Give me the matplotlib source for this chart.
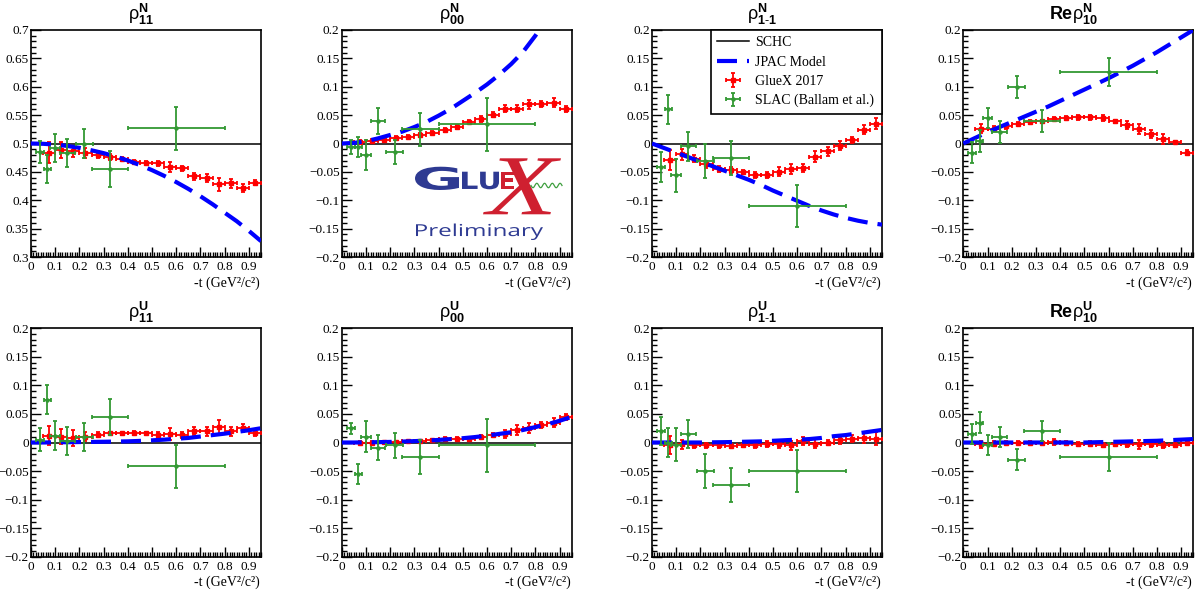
import numpy as np
import matplotlib
matplotlib.use("Agg")
import matplotlib.pyplot as plt
from matplotlib.lines import Line2D
from matplotlib.ticker import MultipleLocator, FuncFormatter
from matplotlib.textpath import TextPath
from matplotlib.patches import PathPatch
from matplotlib.font_manager import FontProperties
from matplotlib.transforms import Affine2D, IdentityTransform

# ------------------------------------------------------------------ data
GLUEX_T = [0.075, 0.125, 0.175, 0.225, 0.275, 0.325, 0.375, 0.425, 0.475,
           0.525, 0.575, 0.625, 0.675, 0.725, 0.775, 0.825, 0.875, 0.925]
GLUEX_T_HALFBIN = 0.025

SLAC_T = [0.037, 0.068, 0.10, 0.15, 0.22, 0.325, 0.60]
SLAC_T_ERR = [0.017, 0.014, 0.02, 0.03, 0.035, 0.075, 0.20]

JPAC_T = [0.00, 0.05, 0.10, 0.15, 0.20, 0.25, 0.30, 0.35, 0.40, 0.45,
          0.50, 0.55, 0.60, 0.65, 0.70, 0.75, 0.80, 0.85, 0.90, 0.95]

# --- rho^N_11
GLUEX_RHO11_N = [0.484, 0.489, 0.486, 0.483, 0.480, 0.476, 0.473, 0.468, 0.466,
                 0.465, 0.458, 0.456, 0.442, 0.440, 0.428, 0.430, 0.421, 0.431]
GLUEX_RHO11_N_ERR = [0.018, 0.014, 0.010, 0.009, 0.006, 0.005, 0.004, 0.003, 0.003,
                     0.004, 0.009, 0.004, 0.006, 0.007, 0.011, 0.008, 0.007, 0.004]
SLAC_RHO11_N = [0.485, 0.455, 0.492, 0.483, 0.500, 0.455, 0.527]
SLAC_RHO11_N_ERR = [0.020, 0.025, 0.025, 0.025, 0.025, 0.031, 0.038]
JPAC_RHO11_N = [0.500, 0.4995, 0.498, 0.4957, 0.4924, 0.488, 0.483, 0.477, 0.470, 0.462,
                0.453, 0.443, 0.432, 0.420, 0.407, 0.393, 0.378, 0.363, 0.346, 0.328]

# --- rho^N_00
GLUEX_RHO00_N = [0.003, 0.005, 0.007, 0.010, 0.012, 0.015, 0.019, 0.024, 0.029,
                 0.038, 0.043, 0.051, 0.061, 0.061, 0.069, 0.070, 0.072, 0.061]
GLUEX_RHO00_N_ERR = [0.003, 0.003, 0.003, 0.003, 0.003, 0.003, 0.003, 0.004, 0.004,
                     0.003, 0.005, 0.004, 0.006, 0.006, 0.008, 0.005, 0.008, 0.005]
SLAC_RHO00_N = [-0.006, -0.006, -0.020, 0.039, -0.015, 0.025, 0.034]
SLAC_RHO00_N_ERR = [0.012, 0.018, 0.027, 0.023, 0.022, 0.029, 0.047]
JPAC_RHO00_N = [0.000, 0.001, 0.004, 0.009, 0.015, 0.021, 0.029, 0.038, 0.049, 0.061,
                0.075, 0.089, 0.104, 0.121, 0.140, 0.162, 0.190, 0.222, 0.258, 0.298]

# --- rho^N_1-1
GLUEX_RHO1M1_N = [-0.029, -0.019, -0.027, -0.037, -0.045, -0.047, -0.050, -0.056, -0.056,
                  -0.050, -0.045, -0.044, -0.023, -0.014, -0.004, 0.006, 0.024, 0.035]
GLUEX_RHO1M1_N_ERR = [0.018, 0.010, 0.006, 0.006, 0.005, 0.005, 0.004, 0.005, 0.005,
                      0.008, 0.009, 0.007, 0.010, 0.008, 0.008, 0.005, 0.008, 0.010]
SLAC_RHO1M1_N = [-0.041, 0.060, -0.056, -0.005, -0.031, -0.025, -0.110]
SLAC_RHO1M1_N_ERR = [0.026, 0.026, 0.029, 0.026, 0.030, 0.030, 0.037]
JPAC_RHO1M1_N = [0.000, -0.008, -0.016, -0.024, -0.032, -0.040, -0.048, -0.056, -0.064, -0.073,
                 -0.083, -0.092, -0.101, -0.110, -0.118, -0.125, -0.131, -0.136, -0.140, -0.143]

# --- Re rho^N_10
GLUEX_RERHO10_N = [0.026, 0.026, 0.030, 0.035, 0.038, 0.039, 0.043, 0.045, 0.046,
                   0.046, 0.045, 0.039, 0.032, 0.025, 0.017, 0.008, 0.002, -0.016]
GLUEX_RERHO10_N_ERR = [0.008, 0.004, 0.004, 0.003, 0.003, 0.003, 0.004, 0.004, 0.005,
                       0.005, 0.005, 0.003, 0.007, 0.009, 0.007, 0.008, 0.003, 0.004]
SLAC_RERHO10_N = [-0.016, 0.004, 0.045, 0.020, 0.100, 0.040, 0.126]
SLAC_RERHO10_N_ERR = [0.019, 0.019, 0.018, 0.019, 0.019, 0.019, 0.025]
JPAC_RERHO10_N = [0.000, 0.010, 0.020, 0.029, 0.038, 0.047, 0.056, 0.065, 0.075, 0.085,
                  0.095, 0.105, 0.115, 0.126, 0.137, 0.149, 0.161, 0.174, 0.187, 0.200]

# --- rho^U_11
GLUEX_RHO11_U = [0.012, 0.010, 0.008, 0.010, 0.014, 0.016, 0.016, 0.017, 0.016,
                 0.014, 0.015, 0.013, 0.020, 0.020, 0.027, 0.020, 0.026, 0.017]
GLUEX_RHO11_U_ERR = [0.017, 0.013, 0.014, 0.008, 0.005, 0.003, 0.003, 0.003, 0.003,
                     0.004, 0.010, 0.005, 0.007, 0.008, 0.012, 0.008, 0.007, 0.005]
SLAC_RHO11_U = [0.005, 0.075, 0.012, 0.003, 0.010, 0.045, -0.042]
SLAC_RHO11_U_ERR = [0.020, 0.025, 0.025, 0.025, 0.025, 0.031, 0.037]
JPAC_RHO11_U = [0.000, 0.000, 0.0003, 0.0005, 0.0008, 0.001, 0.0013, 0.0017, 0.002, 0.0028,
                0.0038, 0.005, 0.0065, 0.008, 0.0105, 0.013, 0.0155, 0.0185, 0.0215, 0.025]

# --- rho^U_00
GLUEX_RHO00_U = [0.000, 0.000, 0.001, 0.001, 0.002, 0.003, 0.004, 0.006, 0.007,
                 0.006, 0.010, 0.013, 0.015, 0.022, 0.025, 0.031, 0.035, 0.045]
GLUEX_RHO00_U_ERR = [0.002, 0.002, 0.002, 0.002, 0.002, 0.002, 0.003, 0.004, 0.003,
                     0.003, 0.004, 0.004, 0.007, 0.008, 0.009, 0.005, 0.008, 0.005]
SLAC_RHO00_U = [0.025, -0.055, 0.010, -0.009, -0.005, -0.025, -0.005]
SLAC_RHO00_U_ERR = [0.010, 0.018, 0.027, 0.022, 0.022, 0.030, 0.047]
JPAC_RHO00_U = [0.000, 0.000, 0.0003, 0.0006, 0.001, 0.0016, 0.0024, 0.0033, 0.0045, 0.006,
                0.0075, 0.0095, 0.012, 0.015, 0.018, 0.022, 0.027, 0.032, 0.038, 0.045]

# --- rho^U_1-1
GLUEX_RHO1M1_U = [-0.005, -0.003, -0.005, -0.005, -0.005, -0.006, -0.005, -0.005, -0.003,
                  -0.003, -0.005, 0.003, -0.002, 0.000, 0.004, 0.007, 0.008, 0.007]
GLUEX_RHO1M1_U_ERR = [0.016, 0.008, 0.005, 0.005, 0.004, 0.003, 0.003, 0.004, 0.005,
                      0.006, 0.008, 0.007, 0.008, 0.005, 0.006, 0.006, 0.008, 0.011]
SLAC_RHO1M1_U = [0.020, 0.000, -0.004, 0.015, -0.050, -0.075, -0.050]
SLAC_RHO1M1_U_ERR = [0.025, 0.025, 0.029, 0.025, 0.030, 0.030, 0.036]
JPAC_RHO1M1_U = [0.000, 0.000, 0.000, 0.000, 0.000, 0.0003, 0.0006, 0.001, 0.0015, 0.002,
                 0.003, 0.004, 0.005, 0.006, 0.008, 0.011, 0.013, 0.016, 0.019, 0.022]

# --- Re rho^U_10
GLUEX_RERHO10_U = [-0.003, -0.002, 0.000, 0.000, 0.000, 0.000, 0.001, -0.001, -0.003,
                   -0.002, -0.004, -0.003, -0.003, -0.003, -0.003, -0.004, -0.004, -0.001]
GLUEX_RERHO10_U_ERR = [0.006, 0.004, 0.003, 0.002, 0.002, 0.002, 0.005, 0.003, 0.004,
                       0.004, 0.004, 0.003, 0.005, 0.008, 0.005, 0.005, 0.003, 0.004]
SLAC_RERHO10_U = [0.015, 0.035, -0.004, 0.010, -0.030, 0.020, -0.025]
SLAC_RERHO10_U_ERR = [0.018, 0.018, 0.018, 0.018, 0.018, 0.018, 0.025]
JPAC_RERHO10_U = [0.000, 0.000, 0.000, 0.000, 0.000, 0.000, 0.000, 0.000, 0.000, 0.000,
                  0.000, 0.0005, 0.001, 0.0015, 0.002, 0.0025, 0.003, 0.004, 0.005, 0.006]

TITLES = [r'$\rho^{\mathbf{N}}_{\mathbf{11}}$', r'$\rho^{\mathbf{N}}_{\mathbf{00}}$',
          r'$\rho^{\mathbf{N}}_{\mathbf{1\text{-}1}}$', r'$\mathbf{Re}\rho^{\mathbf{N}}_{\mathbf{10}}$',
          r'$\rho^{\mathbf{U}}_{\mathbf{11}}$', r'$\rho^{\mathbf{U}}_{\mathbf{00}}$',
          r'$\rho^{\mathbf{U}}_{\mathbf{1\text{-}1}}$', r'$\mathbf{Re}\rho^{\mathbf{U}}_{\mathbf{10}}$']
SCHC_VALUES = [0.5, 0.0, 0.0, 0.0, 0.0, 0.0, 0.0, 0.0]
Y_LIMITS = [(0.3, 0.7)] + [(-0.2, 0.2)] * 7
X_LABEL = '-t (GeV\u00b2/c\u00b2)'
LEGEND_LABELS = ['SCHC', 'JPAC Model', 'GlueX 2017', 'SLAC (Ballam et al.)']

GLUEX_SETS = [(GLUEX_RHO11_N, GLUEX_RHO11_N_ERR), (GLUEX_RHO00_N, GLUEX_RHO00_N_ERR),
              (GLUEX_RHO1M1_N, GLUEX_RHO1M1_N_ERR), (GLUEX_RERHO10_N, GLUEX_RERHO10_N_ERR),
              (GLUEX_RHO11_U, GLUEX_RHO11_U_ERR), (GLUEX_RHO00_U, GLUEX_RHO00_U_ERR),
              (GLUEX_RHO1M1_U, GLUEX_RHO1M1_U_ERR), (GLUEX_RERHO10_U, GLUEX_RERHO10_U_ERR)]
SLAC_SETS = [(SLAC_RHO11_N, SLAC_RHO11_N_ERR), (SLAC_RHO00_N, SLAC_RHO00_N_ERR),
             (SLAC_RHO1M1_N, SLAC_RHO1M1_N_ERR), (SLAC_RERHO10_N, SLAC_RERHO10_N_ERR),
             (SLAC_RHO11_U, SLAC_RHO11_U_ERR), (SLAC_RHO00_U, SLAC_RHO00_U_ERR),
             (SLAC_RHO1M1_U, SLAC_RHO1M1_U_ERR), (SLAC_RERHO10_U, SLAC_RERHO10_U_ERR)]
JPAC_SETS = [JPAC_RHO11_N, JPAC_RHO00_N, JPAC_RHO1M1_N, JPAC_RERHO10_N,
             JPAC_RHO11_U, JPAC_RHO00_U, JPAC_RHO1M1_U, JPAC_RERHO10_U]

# ------------------------------------------------------------------ style
plt.rcParams['font.family'] = ['Liberation Serif', 'DejaVu Serif']
plt.rcParams['mathtext.fontset'] = 'custom'
plt.rcParams['mathtext.rm'] = 'Liberation Sans'
plt.rcParams['mathtext.it'] = 'Liberation Sans:italic'
plt.rcParams['mathtext.bf'] = 'Liberation Sans:bold'
plt.rcParams['mathtext.default'] = 'rm'

RED = '#ff0000'
GREEN = '#339933'
BLUE = '#0000ff'

W, H = 1201, 594
fig = plt.figure(figsize=(W / 100, H / 100), dpi=100)
fig.patch.set_facecolor('white')

LEFTS = [31, 341.7, 652, 963.3]
AX_W = 230
ROWS = [(30, 257), (328.3, 556.7)]


def tick_fmt(v, pos):
    if abs(v) < 1e-9:
        return '0'
    s = ('%.2f' % v).rstrip('0').rstrip('.')
    return s.replace('-', '\u2212')


axes = []
for i in range(8):
    r, c = divmod(i, 4)
    top, bot = ROWS[r]
    ax = fig.add_axes([LEFTS[c] / W, (H - bot) / H, AX_W / W, (bot - top) / H])
    axes.append(ax)
    ax.set_xlim(0, 0.95)
    ax.set_ylim(*Y_LIMITS[i])
    ax.xaxis.set_major_locator(MultipleLocator(0.1))
    ax.xaxis.set_minor_locator(MultipleLocator(0.01))
    ax.yaxis.set_major_locator(MultipleLocator(0.05))
    ax.yaxis.set_minor_locator(MultipleLocator(0.01))
    ax.xaxis.set_major_formatter(FuncFormatter(tick_fmt))
    ax.yaxis.set_major_formatter(FuncFormatter(tick_fmt))
    ax.tick_params(which='both', direction='in', top=False, right=False, width=1.0,
                   labelsize=9.5, colors='black', labelfontfamily='Liberation Serif')
    ax.tick_params(which='major', length=7)
    ax.tick_params(which='minor', length=3.5)
    ax.tick_params(axis='y', pad=1.5)
    ax.tick_params(axis='x', pad=3)
    for sp in ax.spines.values():
        sp.set_linewidth(1.2)

    schc = ax.axhline(SCHC_VALUES[i], color='black', lw=1.1, zorder=2)
    gv, ge = GLUEX_SETS[i]
    red = ax.errorbar(GLUEX_T, gv, xerr=GLUEX_T_HALFBIN, yerr=ge, fmt='s', color=RED,
                      ms=2.6, lw=1.3, elinewidth=1.3, capsize=1.6, capthick=1.3, zorder=3)
    jp, = ax.plot(JPAC_T, JPAC_SETS[i], color=BLUE, lw=3.0, dashes=(4.8, 2.4), zorder=4)
    sv, se = SLAC_SETS[i]
    grn = ax.errorbar(SLAC_T, sv, xerr=SLAC_T_ERR, yerr=se, fmt='o', color=GREEN,
                      ms=2.2, lw=1.3, elinewidth=1.3, capsize=1.6, capthick=1.3, zorder=5)

    ax.text(0.48, 1.0 + 3.0 / (bot - top), TITLES[i], transform=ax.transAxes,
            ha='center', va='bottom', fontsize=13)
    ax.text(0.995, -26.0 / (bot - top), X_LABEL, transform=ax.transAxes,
            ha='right', va='center', fontsize=10)

    if i == 2:
        leg = ax.legend([schc, jp, red, grn], LEGEND_LABELS,
                        loc='upper left', bbox_to_anchor=(0.255, 0.0, 0.745, 1.0),
                        mode='expand', borderaxespad=0, fancybox=False, framealpha=1,
                        edgecolor='black', fontsize=10, handlelength=2.3,
                        handletextpad=0.45, labelspacing=0.45, borderpad=0.45)
        leg.get_frame().set_linewidth(1.2)
        leg.set_zorder(20)


# ------------------------------------------------------------------ GlueX logo
def logo_text(s, box, color, family, weight='normal', style='normal'):
    x0, y0, x1, y1 = box
    fp = FontProperties(family=family, weight=weight, style=style)
    tp = TextPath((0, 0), s, size=100, prop=fp)
    ext = tp.get_extents()
    tr = (Affine2D().translate(-ext.x0, -ext.y0)
          .scale((x1 - x0) / ext.width, (y1 - y0) / ext.height)
          .translate(x0, H - y1))
    patch = PathPatch(tr.transform_path(tp), facecolor=color, edgecolor='none',
                      transform=IdentityTransform(), zorder=10)
    fig.add_artist(patch)


LOGO_BLUE = '#2e3a92'
LOGO_RED = '#cf2030'
logo_text('G', (415, 166.7, 459, 190), LOGO_BLUE, 'DejaVu Sans', weight='bold')
logo_text('LU', (462, 171.7, 499, 189.3), LOGO_BLUE, 'DejaVu Sans', weight='bold')
logo_text('E', (500.5, 171.7, 514, 189.3), LOGO_RED, 'DejaVu Sans', weight='bold')
logo_text('X', (483, 158.3, 561, 214.3), LOGO_RED, 'Liberation Serif', style='italic')
wx = np.linspace(531, 562, 120)
fig.add_artist(Line2D(wx, H - (185.5 + 2.2 * np.sin((wx - 531) / 31 * 2 * np.pi * 4)),
                      color='#3f9f3f', lw=0.9, transform=IdentityTransform(), zorder=11))
logo_text('Preliminary', (416, 223.5, 543, 240), LOGO_BLUE, 'Open Sans')

fig.savefig('out.png', dpi=100, facecolor='white')
